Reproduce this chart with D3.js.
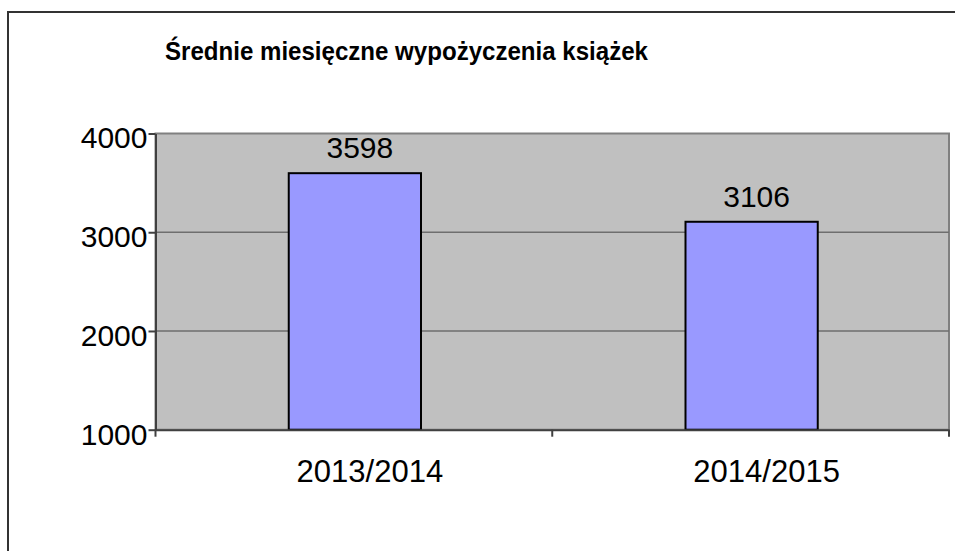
<!DOCTYPE html>
<html>
<head>
<meta charset="utf-8">
<script src="https://cdn.jsdelivr.net/npm/d3@7"></script>
<style>
    body { margin: 0; background: #fff; }
    svg { display: block; }
    text { font-family: "Liberation Sans", Arial, sans-serif; fill: #000; }
</style>
</head>
<body>
<div id="chart"></div>
<script>
// data
var seasons = ["2013/2014", "2014/2015"],
    loans = [3598, 3106],
    yTicks = [1000, 2000, 3000, 4000],
    title = "Średnie miesięczne wypożyczenia książek";

var width = 955,
    height = 551,
    plot = { left: 155.5, top: 133.5, right: 949, bottom: 429.7 };

var svg = d3.select("#chart")
    .append("svg")
    .attr("width", width)
    .attr("height", height);

// outer frame, runs off the right and bottom edge
svg.append("rect")
    .attr("x", 8)
    .attr("y", 12)
    .attr("width", 1000)
    .attr("height", 600)
    .attr("fill", "#fff")
    .attr("stroke", "#333")
    .attr("stroke-width", 2);

svg.append("text")
    .attr("x", 165)
    .attr("y", 59.5)
    .attr("textLength", 483)
    .attr("lengthAdjust", "spacingAndGlyphs")
    .style("font-family", "'Liberation Sans Narrow', 'Liberation Sans', Arial, sans-serif")
    .style("font-weight", "bold")
    .style("font-size", "25px")
    .text(title);

var x = d3.scaleBand()
    .domain(seasons)
    .range([plot.left, plot.right])
    .paddingInner(0)
    .paddingOuter(0);

var y = d3.scaleLinear()
    .domain([1000, 4000])
    .range([plot.bottom, plot.top]);

// plot area background
svg.append("rect")
    .attr("x", plot.left)
    .attr("y", plot.top)
    .attr("width", plot.right - plot.left)
    .attr("height", plot.bottom - plot.top)
    .attr("fill", "#c0c0c0")
    .attr("stroke", "#808080")
    .attr("stroke-width", 2);

// gridlines
svg.append("g")
    .selectAll("line")
    .data(yTicks.slice(1, -1))
    .enter()
    .append("line")
    .attr("x1", plot.left)
    .attr("x2", plot.right)
    .attr("y1", function (d) { return y(d); })
    .attr("y2", function (d) { return y(d); })
    .attr("stroke", "#6e6e6e")
    .attr("stroke-width", 1.5);

// bars
var barW = x.bandwidth() / 3;

svg.append("g")
    .selectAll("rect")
    .data(loans)
    .enter()
    .append("rect")
    .attr("x", function (d, i) { return x(seasons[i]) + x.bandwidth() / 2 - barW / 2 + 1; })
    .attr("y", function (d) { return y(d); })
    .attr("width", barW)
    .attr("height", function (d) { return y(1000) - y(d); })
    .attr("fill", "#9999ff")
    .attr("stroke", "#000")
    .attr("stroke-width", 2);

// value labels
svg.append("g")
    .selectAll("text")
    .data(loans)
    .enter()
    .append("text")
    .attr("x", function (d, i) { return x(seasons[i]) + x.bandwidth() / 2 + 6; })
    .attr("y", function (d) { return y(d) - 15; })
    .attr("text-anchor", "middle")
    .style("font-size", "30px")
    .text(function (d) { return d; });

// y axis
var yAxis = d3.axisLeft(y)
    .tickValues(yTicks)
    .tickFormat(d3.format("d"))
    .tickSize(7)
    .tickPadding(1)
    .tickSizeOuter(0);

var gy = svg.append("g")
    .attr("transform", "translate(" + plot.left + ",0)")
    .call(yAxis);

gy.select(".domain").attr("stroke", "#404040").attr("stroke-width", 2);
gy.selectAll(".tick line").attr("stroke", "#404040").attr("stroke-width", 2);
gy.selectAll(".tick text")
    .attr("dy", "0.48em")
    .attr("fill", "#000")
    .style("font-family", "'Liberation Sans', Arial, sans-serif")
    .style("font-size", "30px");

// x axis with ticks on band edges
var xAxis = d3.axisBottom(x)
    .tickSize(0)
    .tickPadding(30)
    .tickSizeOuter(0);

var gx = svg.append("g")
    .attr("transform", "translate(0," + plot.bottom + ")")
    .call(xAxis);

gx.select(".domain").attr("stroke", "#404040").attr("stroke-width", 2);
gx.selectAll(".tick text")
    .attr("dx", 16)
    .attr("fill", "#000")
    .style("font-family", "'Liberation Sans', Arial, sans-serif")
    .style("font-size", "31px");

var edges = [plot.left, x(seasons[1]), plot.right];
gx.selectAll(".edge")
    .data(edges)
    .enter()
    .append("line")
    .attr("class", "edge")
    .attr("x1", function (d) { return d; })
    .attr("x2", function (d) { return d; })
    .attr("y1", 0)
    .attr("y2", 7)
    .attr("stroke", "#404040")
    .attr("stroke-width", 2);
</script>
</body>
</html>
